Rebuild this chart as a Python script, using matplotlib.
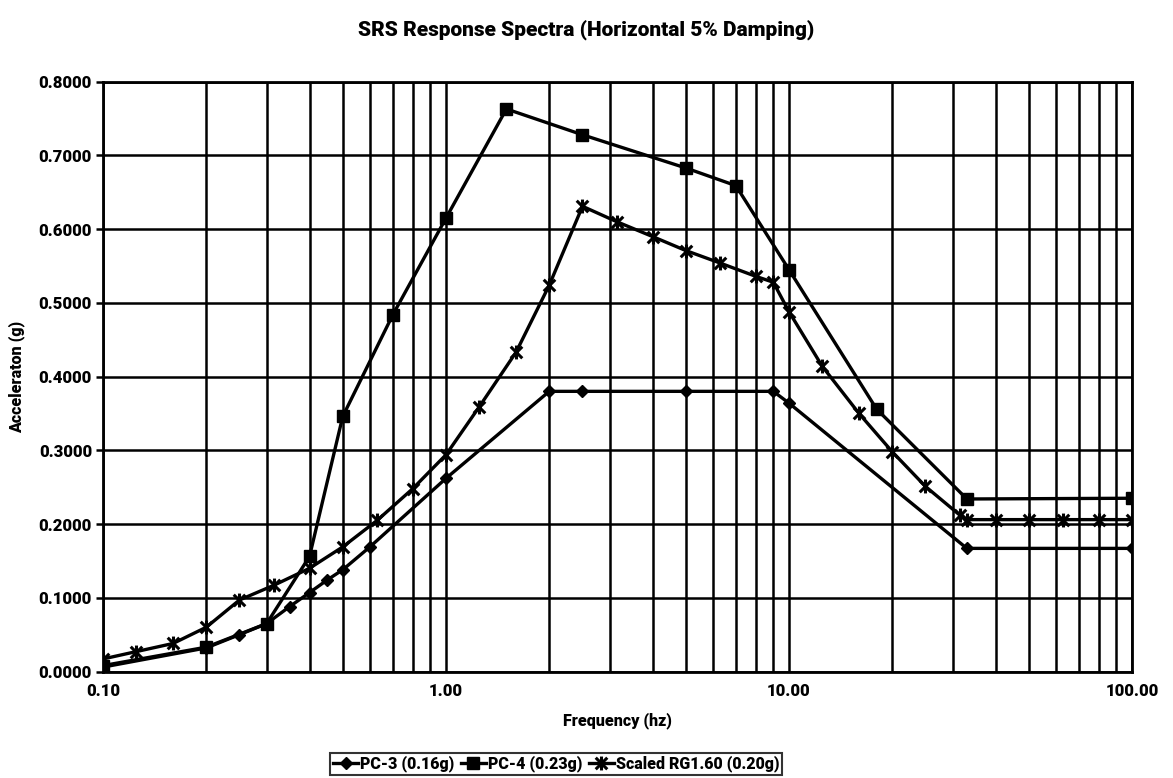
import matplotlib
matplotlib.use("Agg")
import matplotlib.pyplot as plt
from matplotlib.path import Path
from matplotlib.ticker import FixedLocator, FuncFormatter, NullFormatter, LogLocator

# Response spectrum data (frequency in Hz, acceleration in g)
pc3_freq = [0.1, 0.2, 0.25, 0.3, 0.35, 0.4, 0.45, 0.5, 0.6, 1.0, 2.0, 2.5, 5.0, 9.0, 10.0, 33.0, 100.0]
pc3_acc = [0.006, 0.032, 0.050, 0.065, 0.088, 0.107, 0.124, 0.138, 0.169, 0.262,
           0.380, 0.380, 0.380, 0.380, 0.364, 0.167, 0.167]

pc4_freq = [0.1, 0.2, 0.3, 0.4, 0.5, 0.7, 1.0, 1.5, 2.5, 5.0, 7.0, 10.0, 18.0, 33.0, 100.0]
pc4_acc = [0.008, 0.033, 0.065, 0.156, 0.346, 0.484, 0.615, 0.763, 0.728, 0.683,
           0.659, 0.545, 0.356, 0.234, 0.235]

rg_freq = [0.1, 0.125, 0.16, 0.2, 0.25, 0.315, 0.4, 0.5, 0.63, 0.8, 1.0, 1.25, 1.6, 2.0,
           2.5, 3.15, 4.0, 5.0, 6.3, 8.0, 9.0, 10.0, 12.5, 16.0, 20.0, 25.0, 31.5, 33.0,
           40.0, 50.0, 63.0, 80.0, 100.0]
rg_acc = [0.017, 0.027, 0.038, 0.060, 0.097, 0.117, 0.140, 0.169, 0.205, 0.248, 0.294,
          0.359, 0.433, 0.524, 0.631, 0.610, 0.590, 0.571, 0.554, 0.536, 0.528, 0.488,
          0.414, 0.350, 0.298, 0.251, 0.212, 0.206, 0.206, 0.206, 0.206, 0.206, 0.206]

series_labels = ["PC-3 (0.16g)", "PC-4 (0.23g)", "Scaled RG1.60 (0.20g)"]
y_ticks = [0.0, 0.1, 0.2, 0.3, 0.4, 0.5, 0.6, 0.7, 0.8]
x_ticks = [0.1, 1.0, 10.0, 100.0]

plt.rcParams["font.family"] = ["Roboto", "Liberation Sans", "DejaVu Sans"]
HEAVY = 900

# star marker: an X crossed by a vertical stroke
star_marker = Path(
    [(-1, -1), (1, 1), (-1, 1), (1, -1), (0, -1.2), (0, 1.2)],
    [Path.MOVETO, Path.LINETO, Path.MOVETO, Path.LINETO, Path.MOVETO, Path.LINETO],
)

fig = plt.figure(figsize=(11.73, 7.78), dpi=100)
ax = fig.add_axes([103 / 1173, 1 - 671.5 / 778, (1132 - 103) / 1173, (671.5 - 81.7) / 778])

lw = 2.4
ax.plot(pc3_freq, pc3_acc, color="black", lw=lw, marker="D", ms=6,
        label=series_labels[0], zorder=4)
ax.plot(pc4_freq, pc4_acc, color="black", lw=lw, marker="s", ms=8,
        label=series_labels[1], zorder=4)
ax.plot(rg_freq, rg_acc, color="black", lw=lw, marker=star_marker, ms=10, mew=2.2,
        label=series_labels[2], zorder=4)

ax.set_xscale("log")
ax.set_xlim(0.1, 100)
ax.set_ylim(0, 0.8)

ax.xaxis.set_major_locator(FixedLocator(x_ticks))
ax.xaxis.set_minor_locator(LogLocator(base=10, subs=range(2, 10)))
ax.xaxis.set_minor_formatter(NullFormatter())
ax.xaxis.set_major_formatter(FuncFormatter(lambda v, p: f"{v:.2f}"))
ax.yaxis.set_major_locator(FixedLocator(y_ticks))
ax.yaxis.set_major_formatter(FuncFormatter(lambda v, p: f"{v:.4f}"))

ax.grid(True, which="major", axis="both", color="black", lw=1.8)
ax.grid(True, which="minor", axis="x", color="black", lw=1.8)
ax.set_axisbelow(True)

for s in ax.spines.values():
    s.set_linewidth(2.0)

ax.tick_params(axis="y", which="major", direction="out", length=5, width=1.8,
               labelsize=12, pad=3)
ax.tick_params(axis="x", which="both", length=0, labelsize=12, pad=8)
for lab in ax.get_xticklabels() + ax.get_yticklabels():
    lab.set_fontweight(HEAVY)

ax.set_xlabel("Frequency (hz)", fontsize=11.5, fontweight=HEAVY, labelpad=10)
ax.set_ylabel("Acceleraton (g)", fontsize=11.5, fontweight=HEAVY, labelpad=10)

fig.suptitle("SRS Response Spectra (Horizontal 5% Damping)", fontsize=15,
             fontweight=HEAVY, x=0.5, y=1 - 30 / 778, va="center")

leg = fig.legend(loc="center", bbox_to_anchor=(556 / 1173, 1 - 764 / 778), ncol=3,
                 frameon=True, fancybox=False, edgecolor="black",
                 prop={"size": 11.5, "weight": HEAVY},
                 handlelength=1.6, handletextpad=0.1, columnspacing=0.4,
                 borderpad=0.15, borderaxespad=0)
leg.get_frame().set_linewidth(1.5)

fig.savefig("out.png", dpi=100, facecolor="white")
